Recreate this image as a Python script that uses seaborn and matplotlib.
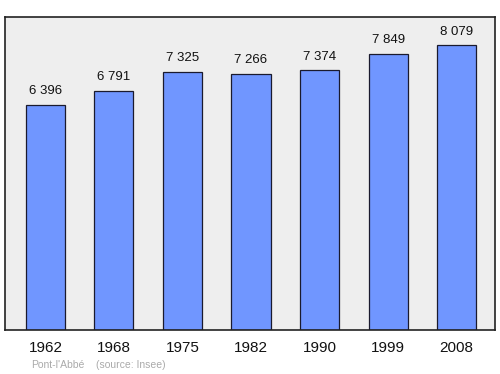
import matplotlib
matplotlib.use("Agg")
import matplotlib.pyplot as plt
import seaborn as sns
import pandas as pd

years = ["1962", "1968", "1975", "1982", "1990", "1999", "2008"]
population = [6396, 6791, 7325, 7266, 7374, 7849, 8079]
value_labels = ["6 396", "6 791", "7 325", "7 266", "7 374", "7 849", "8 079"]

sns.set_theme(style="white")
plt.rcParams['font.family'] = ['Liberation Sans', 'DejaVu Sans']

df = pd.DataFrame({"year": years, "pop": population})

fig = plt.figure(figsize=(5, 3.74), dpi=100)
ax = fig.add_axes([5/500, 1 - 330/374, 490/500, (330-17)/374])
ax.set_facecolor("#eeeeee")
sns.barplot(data=df, x="year", y="pop", ax=ax, color="#7096ff", saturation=1,
            width=0.57, edgecolor="#1a1a2e", linewidth=0.9)
ax.set_xlim(-0.59, 6.56)
ax.set_ylim(0, 8887)
for i, (v, lab) in enumerate(zip(population, value_labels)):
    ax.annotate(lab, (i, v), xytext=(0, 5.5), textcoords="offset points",
                ha="center", va="bottom", fontsize=9.5, color="#111111")
ax.set_xlabel("")
ax.set_ylabel("")
ax.set_yticks([])
ax.tick_params(axis="x", length=0, labelsize=11, pad=8, colors="#111111")
for s in ax.spines.values():
    s.set_color("#222222")
    s.set_linewidth(1.2)
fig.text(31/500, 1 - 365/374, "Pont-l'Abbé", fontsize=7.5, color="#aaaaaa", va="center")
fig.text(96/500, 1 - 365/374, "(source: Insee)", fontsize=7.5, color="#aaaaaa", va="center")
fig.savefig("out.png", dpi=100)
